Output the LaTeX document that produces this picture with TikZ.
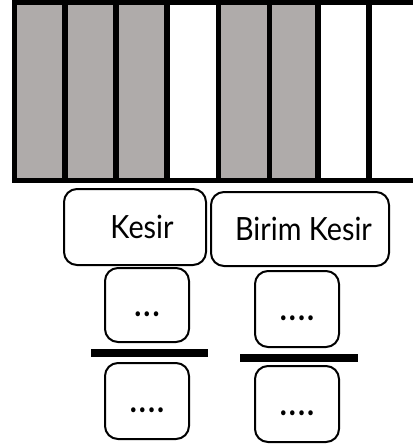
\documentclass[tikz,border=0pt]{standalone}
\usepackage{fontspec}
\newfontfamily\labfont[FakeStretch=0.9]{Lato}
\newfontfamily\dotfont[FakeStretch=0.9,LetterSpace=6]{Lato}
\definecolor{cellgray}{RGB}{175,171,170}
\begin{document}
\begin{tikzpicture}[x=1pt,y=-1pt,
  box/.style={draw=black, line width=2pt, rounded corners=13pt, inner sep=0pt,
    minimum width=84pt, minimum height=76pt},
  lab/.style={font=\labfont\fontsize{32}{36}\selectfont, text height=23pt, text depth=0pt, inner sep=0pt},
  dots/.style={font=\dotfont\bfseries\fontsize{33}{36}\selectfont, text height=23pt, text depth=0pt},
  bar/.style={fill=black, inner sep=0pt, minimum height=8pt},
  grid/.style={line width=5.5pt, black}]
\useasboundingbox (0,0) rectangle (413,447);
% strip of cells
\fill[cellgray] (14.5,2.5) rectangle (167.2,180.5);
\fill[cellgray] (218.3,2.5) rectangle (317.8,180.5);
\foreach \x in {14.5,65,116.2,167.2,218.3,269.5,317.8,368.8}
  \draw[grid] (\x,0) -- (\x,183);
\draw[line width=5pt] (12,2.5) -- (413,2.5);
\draw[line width=5pt] (12,180.5) -- (413,180.5);
% headers
\node[box, minimum width=142pt, minimum height=76pt,
  label={[lab,xshift=7pt]center:Kesir}] (kesir) at (135,227) {};
\node[box, minimum width=178pt, minimum height=74pt,
  label={[lab,xshift=3.5pt]center:Birim Kesir}] (birim) at (300,229) {};
% left fraction
\node[box, minimum height=74pt, dots] (ln) at (147,305) {...};
\node[bar, minimum width=117pt] (lbar) at (149.5,353) {};
\node[box, dots] (ld) at (147,401) {....};
% right fraction
\node[box, dots] (rn) at (297,309) {....};
\node[bar, minimum width=118pt] (rbar) at (299,358) {};
\node[box, dots] (rd) at (297,404) {....};
\end{tikzpicture}
\end{document}
